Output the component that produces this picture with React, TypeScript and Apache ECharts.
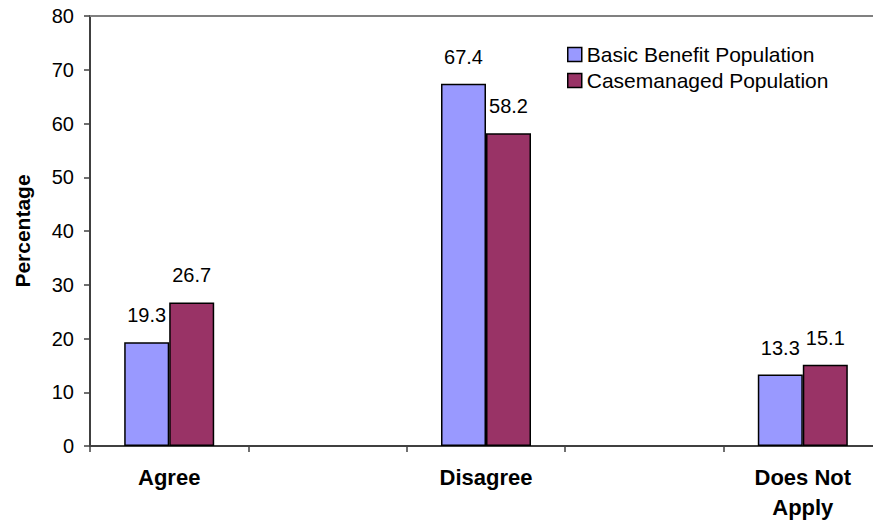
import React, { useEffect, useRef } from "react";
import * as echarts from "echarts";

// Response categories (blank slots keep the wide spacing between groups)
const categories = ["Agree", "", "Disagree", "", "Does Not\nApply"];
const seriesNames = ["Basic Benefit Population", "Casemanaged Population"];
const basicBenefit = [19.3, null, 67.4, null, 13.3];
const casemanaged = [26.7, null, 58.2, null, 15.1];
const yTicks = { min: 0, max: 80, interval: 10 };

const FONT = "Arial, 'Liberation Sans', Helvetica, sans-serif";

export default function App() {
  const ref = useRef<HTMLDivElement>(null);

  useEffect(() => {
    if (!ref.current) return;
    const chart = echarts.init(ref.current, null, { renderer: "svg" });

    const valueLabel = {
      show: true,
      position: "top" as const,
      distance: 17,
      color: "#000",
      fontSize: 20,
      fontFamily: FONT,
      formatter: (p: any) => (p.value == null ? "" : Number(p.value).toFixed(1)),
    };

    chart.setOption({
      animation: false,
      backgroundColor: "#fff",
      textStyle: { fontFamily: FONT },
      grid: {
        left: 90,
        top: 16,
        width: 792,
        bottom: 79,
        containLabel: false,
        outerBoundsMode: "none",
      },
      legend: {
        orient: "vertical",
        left: 562,
        top: 39,
        itemWidth: 14,
        itemHeight: 14,
        itemGap: 5,
        itemTextGap: 8,
        icon: "rect",
        itemStyle: { borderColor: "#000", borderWidth: 1.5 },
        textStyle: { color: "#000", fontSize: 21, fontFamily: FONT },
        data: seriesNames,
      },
      xAxis: [
        {
          type: "category",
          data: categories,
          position: "bottom",
          axisLine: { show: true, lineStyle: { color: "#404040", width: 2 } },
          axisTick: { show: true, length: 6, alignWithLabel: false, lineStyle: { color: "#404040", width: 1.5 } },
          axisLabel: {
            color: "#000",
            fontSize: 22,
            fontWeight: "bold",
            fontFamily: FONT,
            lineHeight: 30,
            margin: 16,
            interval: 0,
          },
        },
        {
          type: "category",
          data: categories,
          position: "top",
          axisLine: { show: true, lineStyle: { color: "#808080", width: 2 } },
          axisTick: { show: false },
          axisLabel: { show: false },
        },
      ],
      yAxis: {
        type: "value",
        min: yTicks.min,
        max: yTicks.max,
        interval: yTicks.interval,
        name: "Percentage",
        nameLocation: "middle",
        nameGap: 57,
        nameTextStyle: { color: "#000", fontSize: 21, fontWeight: "bold", fontFamily: FONT },
        axisLine: { show: true, lineStyle: { color: "#404040", width: 2 } },
        axisTick: { show: true, length: 6, lineStyle: { color: "#404040", width: 1.5 } },
        axisLabel: { color: "#000", fontSize: 20, fontFamily: FONT, margin: 16 },
        splitLine: { show: false },
      },
      series: [
        {
          name: seriesNames[0],
          type: "bar",
          xAxisIndex: 0,
          data: basicBenefit,
          barWidth: 45,
          barGap: "0%",
          itemStyle: { color: "#9999FF", borderColor: "#000", borderWidth: 1.5 },
          label: valueLabel,
        },
        {
          name: seriesNames[1],
          type: "bar",
          xAxisIndex: 0,
          data: casemanaged,
          barWidth: 45,
          barGap: "0%",
          itemStyle: { color: "#993366", borderColor: "#000", borderWidth: 1.5 },
          label: valueLabel,
        },
      ],
    });

    return () => chart.dispose();
  }, []);

  return (
    <div
      ref={ref}
      style={{ position: "fixed", left: 0, top: 0, width: 873, height: 525, background: "#fff" }}
    />
  );
}
